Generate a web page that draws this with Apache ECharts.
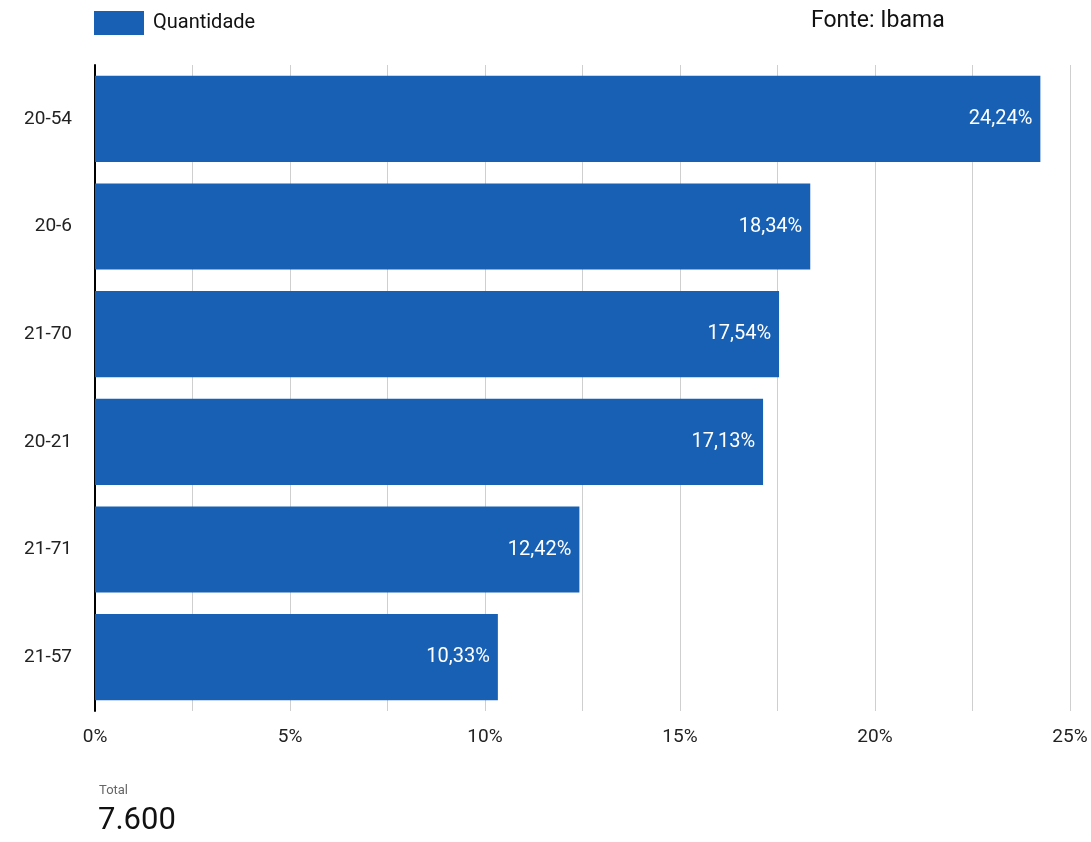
<!DOCTYPE html>
<html><head><meta charset="utf-8">
<script src="https://cdn.jsdelivr.net/npm/echarts@6/dist/echarts.min.js"></script>
<style>html,body{margin:0;padding:0;background:#fff}#c{width:1091px;height:842px}</style>
</head><body><div id="c"></div>
<script>
const categories = ['20-54', '20-6', '21-70', '20-21', '21-71', '21-57'];
const values = [24.24, 18.34, 17.54, 17.13, 12.42, 10.33];
const seriesName = 'Quantidade';
const sourceText = 'Fonte: Ibama';
const totalLabel = 'Total';
const totalValue = '7.600';

const FONT = 'Roboto';
const chart = echarts.init(document.getElementById('c'));
chart.setOption({
  backgroundColor: '#ffffff',
  animation: false,
  textStyle: { fontFamily: FONT },
  legend: {
    left: 94, top: 11, padding: 0, itemWidth: 50, itemHeight: 24, itemGap: 10,
    textStyle: { fontSize: 20, color: '#111', fontFamily: FONT, padding: [2, 0, 0, 4] },
    data: [{ name: seriesName, icon: 'rect' }]
  },
  graphic: [
    { type: 'text', left: 811, top: 10, style: { text: sourceText, fontSize: 23, fill: '#111', fontFamily: FONT } },
    { type: 'text', left: 99, top: 784, style: { text: totalLabel, fontSize: 13, fill: '#666', fontFamily: FONT } },
    { type: 'text', left: 98, top: 806, style: { text: totalValue, fontSize: 31, fill: '#111', fontFamily: FONT } }
  ],
  grid: { left: 95, right: 21, top: 65, bottom: 131, containLabel: false },
  xAxis: {
    type: 'value', min: 0, max: 25, interval: 2.5,
    axisLine: { show: false }, axisTick: { show: false },
    splitLine: { show: true, lineStyle: { color: '#cfcfcf', width: 1 } },
    axisLabel: {
      margin: 17, fontSize: 19, color: '#222', fontFamily: FONT,
      formatter: v => (Math.abs(v % 5) < 1e-9 ? v + '%' : '')
    }
  },
  yAxis: {
    type: 'category', data: categories, inverse: true,
    axisLine: { show: true, lineStyle: { color: '#000', width: 2 } },
    axisTick: { show: false },
    axisLabel: { margin: 23, fontSize: 19, color: '#222', fontFamily: FONT }
  },
  series: [{
    name: seriesName, type: 'bar', data: values,
    barCategoryGap: '20%',
    itemStyle: { color: '#1760b4' },
    label: {
      show: true, position: 'insideRight', distance: 8,
      color: '#fff', fontSize: 20, fontFamily: FONT,
      formatter: p => p.value.toFixed(2).replace('.', ',') + '%'
    }
  }]
});
</script></body></html>
